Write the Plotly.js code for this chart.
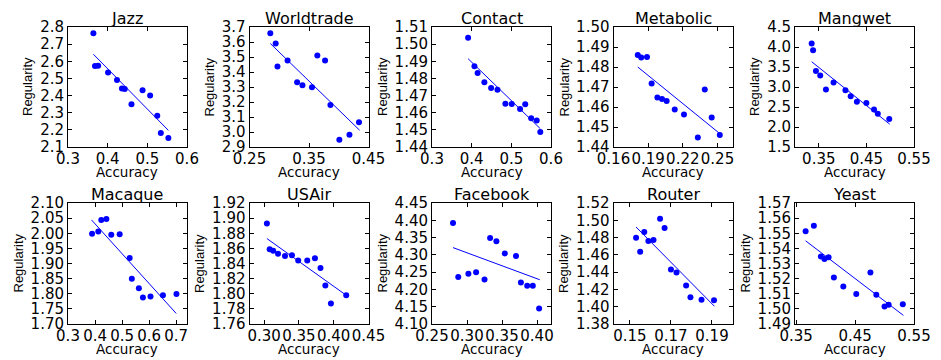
<!DOCTYPE html>
<html>
<head>
<meta charset="utf-8">
<script src="https://cdn.plot.ly/plotly-3.0.1.min.js"></script>
<style>
  html, body { margin: 0; padding: 0; background: #fff; }
  #chart { width: 941px; height: 360px; }
</style>
</head>
<body>
<div id="chart"></div>
<script>
// panel names, in reading order
var names = ["Jazz", "Worldtrade", "Contact", "Metabolic", "Mangwet",
             "Macaque", "USAir", "Facebook", "Router", "Yeast"];

// accuracy / regularity
var jazzAcc = [0.364, 0.368, 0.376, 0.401, 0.4235, 0.436, 0.443, 0.460, 0.488, 0.507, 0.525, 0.534, 0.553];
var jazzReg = [2.763, 2.572, 2.574, 2.534, 2.491, 2.441, 2.438, 2.349, 2.431, 2.400, 2.283, 2.182, 2.152];
var worldAcc = [0.285, 0.294, 0.297, 0.314, 0.330, 0.339, 0.355, 0.364, 0.377, 0.386, 0.401, 0.418, 0.434];
var worldReg = [3.658, 3.590, 3.436, 3.477, 3.332, 3.312, 3.299, 3.510, 3.477, 3.180, 2.948, 2.982, 3.065];
var contactAcc = [0.391, 0.407, 0.415, 0.432, 0.449, 0.465, 0.485, 0.501, 0.522, 0.535, 0.550, 0.564, 0.573];
var contactReg = [1.5038, 1.4871, 1.4832, 1.4777, 1.4744, 1.4734, 1.4653, 1.4651, 1.4622, 1.4649, 1.4567, 1.4554, 1.4487];
var metabAcc = [0.181, 0.184, 0.189, 0.193, 0.198, 0.202, 0.206, 0.213, 0.221, 0.233, 0.239, 0.245, 0.252];
var metabReg = [1.486, 1.4848, 1.485, 1.4717, 1.4648, 1.464, 1.463, 1.4587, 1.4562, 1.4448, 1.4688, 1.4548, 1.446];
var mangAcc = [0.335, 0.338, 0.344, 0.353, 0.365, 0.381, 0.406, 0.417, 0.430, 0.450, 0.466, 0.474, 0.498];
var mangReg = [4.087, 3.92, 3.40, 3.29, 2.94, 3.11, 2.92, 2.77, 2.63, 2.60, 2.44, 2.33, 2.20];
var macAcc = [0.389, 0.412, 0.423, 0.442, 0.460, 0.491, 0.528, 0.536, 0.562, 0.577, 0.605, 0.651, 0.701];
var macReg = [1.998, 2.006, 2.044, 2.047, 1.995, 1.997, 1.918, 1.850, 1.818, 1.788, 1.791, 1.795, 1.799];
var usairAcc = [0.304, 0.308, 0.313, 0.320, 0.330, 0.340, 0.349, 0.362, 0.373, 0.381, 0.388, 0.396, 0.418];
var usairReg = [1.893, 1.859, 1.857, 1.853, 1.850, 1.851, 1.844, 1.844, 1.847, 1.834, 1.811, 1.787, 1.798];
var fbAcc = [0.280, 0.2875, 0.302, 0.313, 0.325, 0.333, 0.342, 0.354, 0.370, 0.377, 0.386, 0.394, 0.403];
var fbReg = [4.392, 4.236, 4.245, 4.250, 4.229, 4.349, 4.339, 4.304, 4.297, 4.220, 4.211, 4.211, 4.145];
var routerAcc = [0.153, 0.155, 0.157, 0.159, 0.1615, 0.1647, 0.1669, 0.170, 0.1727, 0.1774, 0.1795, 0.1849, 0.191];
var routerReg = [1.4798, 1.4635, 1.4864, 1.4759, 1.4771, 1.5018, 1.4910, 1.4430, 1.4396, 1.4245, 1.4109, 1.4082, 1.4075];
var yeastAcc = [0.366, 0.380, 0.392, 0.398, 0.405, 0.414, 0.430, 0.452, 0.476, 0.486, 0.500, 0.507, 0.531];
var yeastReg = [1.5514, 1.5549, 1.5347, 1.5330, 1.5341, 1.5207, 1.5148, 1.5099, 1.5240, 1.5093, 1.5016, 1.5027, 1.5031];

// fitted lines: end points
var fitAcc = [[0.364, 0.553], [0.285, 0.435], [0.391, 0.573], [0.181, 0.252], [0.335, 0.499],
              [0.387, 0.700], [0.304, 0.418], [0.280, 0.404], [0.153, 0.1912], [0.366, 0.532]];
var fitReg = [[2.641, 2.197], [3.590, 3.012], [1.4915, 1.4507], [1.480, 1.4467], [3.632, 2.070],
              [2.044, 1.735], [1.873, 1.798], [4.321, 4.228], [1.4922, 1.4005], [1.545, 1.4957]];

// tick labels
var xTicks = [[0.3, 0.4, 0.5, 0.6], [0.25, 0.35, 0.45], [0.3, 0.4, 0.5, 0.6], [0.16, 0.19, 0.22, 0.25],
              [0.35, 0.45, 0.55], [0.3, 0.4, 0.5, 0.6, 0.7], [0.30, 0.35, 0.40, 0.45],
              [0.25, 0.30, 0.35, 0.40], [0.15, 0.17, 0.19], [0.35, 0.45, 0.55]];
var yTicks = [[2.1, 2.2, 2.3, 2.4, 2.5, 2.6, 2.7, 2.8],
              [2.9, 3.0, 3.1, 3.2, 3.3, 3.4, 3.5, 3.6, 3.7],
              [1.44, 1.45, 1.46, 1.47, 1.48, 1.49, 1.50, 1.51],
              [1.44, 1.45, 1.46, 1.47, 1.48, 1.49, 1.50],
              [1.5, 2.0, 2.5, 3.0, 3.5, 4.0, 4.5],
              [1.70, 1.75, 1.80, 1.85, 1.90, 1.95, 2.00, 2.05, 2.10],
              [1.76, 1.78, 1.80, 1.82, 1.84, 1.86, 1.88, 1.90, 1.92],
              [4.10, 4.15, 4.20, 4.25, 4.30, 4.35, 4.40, 4.45],
              [1.38, 1.40, 1.42, 1.44, 1.46, 1.48, 1.50, 1.52],
              [1.49, 1.50, 1.51, 1.52, 1.53, 1.54, 1.55, 1.56, 1.57]];
var xFormats = [".1f", ".2f", ".1f", ".2f", ".2f", ".1f", ".2f", ".2f", ".2f", ".2f"];
var yFormats = [".1f", ".1f", ".2f", ".2f", ".1f", ".2f", ".2f", ".2f", ".2f", ".2f"];

var xRanges = [[0.3, 0.6], [0.25, 0.45], [0.3, 0.6], [0.16, 0.263], [0.3, 0.55],
               [0.3, 0.74], [0.279, 0.45], [0.25, 0.42], [0.142, 0.2], [0.348, 0.55]];
var yRanges = [[2.1, 2.8], [2.9, 3.7], [1.44, 1.51], [1.44, 1.50], [1.5, 4.5],
               [1.70, 2.10], [1.76, 1.92], [4.10, 4.45], [1.38, 1.52], [1.49, 1.57]];

var accs = [jazzAcc, worldAcc, contactAcc, metabAcc, mangAcc, macAcc, usairAcc, fbAcc, routerAcc, yeastAcc];
var regs = [jazzReg, worldReg, contactReg, metabReg, mangReg, macReg, usairReg, fbReg, routerReg, yeastReg];

var W = 941, H = 360;
var lefts = [68, 249.5, 432, 613.5, 795];
var boxW = 119;
var rowTop = [27, 203], rowBot = [147, 324];
var blue = "#0000ff";

var data = [];
var layout = {
  width: W, height: H,
  margin: { l: 0, r: 0, t: 0, b: 0 },
  paper_bgcolor: "#fff", plot_bgcolor: "#fff",
  showlegend: false,
  font: { family: "DejaVu Sans", size: 15, color: "#000" },
  annotations: []
};

for (var i = 0; i < names.length; i++) {
  var n = i + 1;
  var col = i % 5, row = Math.floor(i / 5);
  var xa = n === 1 ? "x" : "x" + n, ya = n === 1 ? "y" : "y" + n;
  var x0 = lefts[col], x1 = lefts[col] + boxW;
  var y0 = rowTop[row], y1 = rowBot[row];

  data.push({
    x: accs[i], y: regs[i], xaxis: xa, yaxis: ya,
    type: "scatter", mode: "markers",
    marker: { color: blue, size: 6 },
    cliponaxis: false
  });
  data.push({
    x: fitAcc[i], y: fitReg[i], xaxis: xa, yaxis: ya,
    type: "scatter", mode: "lines",
    line: { color: blue, width: 1 }
  });

  var axBase = {
    showline: true, linecolor: "#000", linewidth: 1, mirror: "allticks",
    ticks: "inside", ticklen: 4, tickwidth: 1, tickcolor: "#000",
    showgrid: false, zeroline: false, fixedrange: true, tickangle: 0,
    tickfont: { family: "DejaVu Sans", size: 15, color: "#000" }
  };
  layout["xaxis" + (n === 1 ? "" : n)] = Object.assign({}, axBase, {
    domain: [x0 / W, x1 / W], anchor: ya, range: xRanges[i],
    tickmode: "array", tickvals: xTicks[i], tickformat: xFormats[i],
    ticklabelstandoff: -2
  });
  layout["yaxis" + (n === 1 ? "" : n)] = Object.assign({}, axBase, {
    domain: [1 - y1 / H, 1 - y0 / H], anchor: xa, range: yRanges[i],
    tickmode: "array", tickvals: yTicks[i], tickformat: yFormats[i],
    ticklabelstandoff: 0
  });

  var cx = (x0 + x1) / 2 / W;
  layout.annotations.push({
    text: names[i], xref: "paper", yref: "paper", x: cx, y: 1 - y0 / H,
    xanchor: "center", yanchor: "bottom", yshift: -3, showarrow: false,
    font: { family: "DejaVu Sans", size: 16, color: "#000" }
  });
  layout.annotations.push({
    text: "Accuracy", xref: "paper", yref: "paper", x: cx, y: 1 - (y1 + 25) / H,
    xanchor: "center", yanchor: "middle", showarrow: false,
    font: { family: "DejaVu Sans", size: 13.5, color: "#000" }
  });
  var labW = yFormats[i] === ".1f" ? 41 : 50;
  layout.annotations.push({
    text: "Regularity", xref: "paper", yref: "paper",
    x: (x0 - labW) / W, y: 1 - (y0 + y1) / 2 / H,
    xanchor: "center", yanchor: "middle", textangle: -90, showarrow: false,
    font: { family: "Liberation Sans", size: 13, color: "#000" }
  });
}

Plotly.newPlot("chart", data, layout, { displayModeBar: false, staticPlot: true });
</script>
</body>
</html>
